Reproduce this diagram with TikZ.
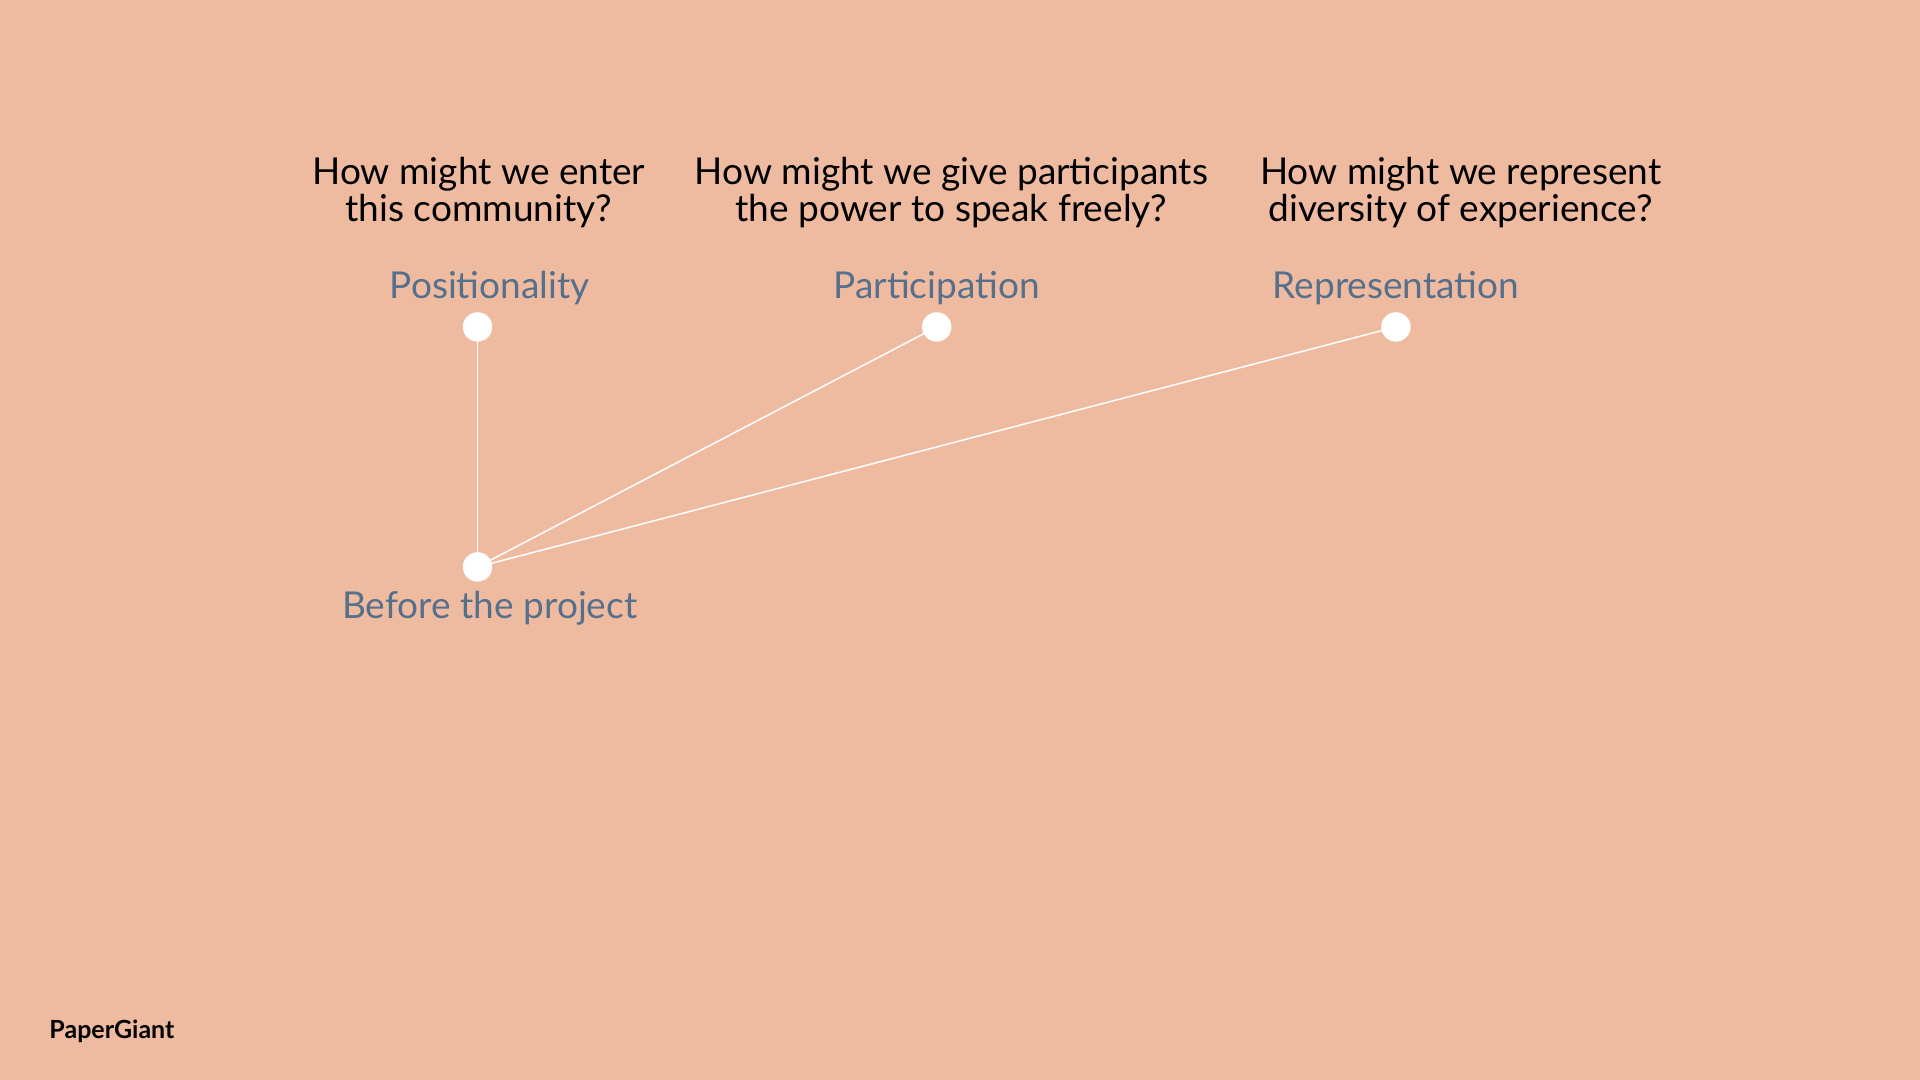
\documentclass[tikz,border=0pt]{standalone}
\usepackage{fontspec}
\setmainfont{Lato}
\definecolor{bg}{HTML}{EFBBA0}
\definecolor{lab}{HTML}{56708C}
\begin{document}
\begin{tikzpicture}[x=0.01cm,y=-0.01cm,
  dot/.style={circle,fill=white,inner sep=0pt,minimum size=0.24cm},
  lbl/.style={text=lab,font=\fontsize{8.6pt}{10pt}\selectfont},
  qst/.style={align=center,font=\fontsize{8.6pt}{8.6pt}\selectfont},
  conn/.style={white,line width=0.35pt}]
\fill[bg] (0,0) rectangle (1568,882);
\useasboundingbox (0,0) rectangle (1568,882);
\node[dot] (p) at (390,267) {};
\node[dot] (a) at (765,267) {};
\node[dot] (r) at (1140,267) {};
\node[dot] (b) at (390,463) {};
\draw[conn] (b.center) -- (p.center);
\draw[conn] (b.center) -- (a.center);
\draw[conn] (b.center) -- (r.center);
\node[lbl] (pl) at (400,235) {Positionality};
\node[lbl] (al) at (765,235) {Participation};
\node[lbl] (rl) at (1140,235) {Representation};
\node[lbl] (bl) at (400,497) {Before the project};
\node[qst] (q1) at (391,157) {How might we enter\\this community?};
\node[qst] (q2) at (777,157) {How might we give participants\\the power to speak freely?};
\node[qst] (q3) at (1193,157) {How might we represent\\diversity of experience?};
\node[font=\fontsize{5.8pt}{7pt}\selectfont\bfseries,anchor=west] (logo) at (28,842) {PaperGiant};
\end{tikzpicture}
\end{document}
